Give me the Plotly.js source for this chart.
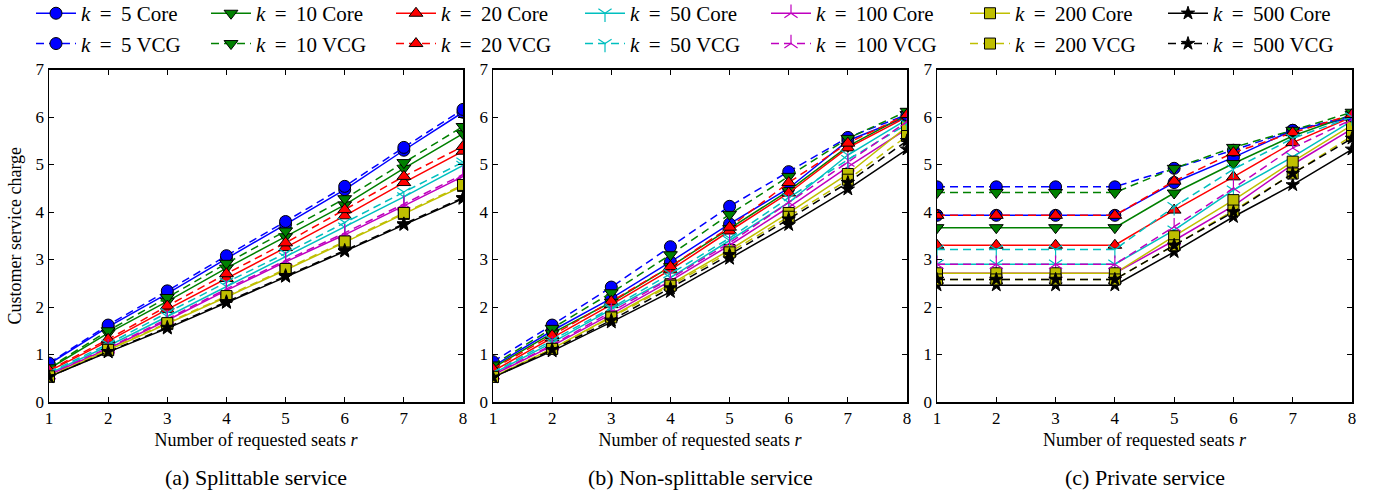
<!DOCTYPE html>
<html><head><meta charset="utf-8">
<script src="https://cdn.plot.ly/plotly-3.0.1.min.js"></script>
<style>html,body{margin:0;padding:0;background:#fff}#chart{width:1379px;height:493px}</style>
</head><body><div id="chart"></div>
<script>
// ---------- data ----------
const seats = [1, 2, 3, 4, 5, 6, 7, 8];
const kValues = [5, 10, 20, 50, 100, 200, 500];
const panelTitles = ['(a) Splittable service', '(b) Non-splittable service', '(c) Private service'];
const xTitle = 'Number of requested seats <i>r</i>';
const yTitle = 'Customer service charge';

// (a) Splittable service, one row per k
const splitCore = [
  [0.80, 1.58, 2.28, 3.02, 3.74, 4.47, 5.30, 6.10],
  [0.70, 1.45, 2.12, 2.82, 3.48, 4.15, 4.92, 5.65],
  [0.65, 1.28, 1.95, 2.60, 3.25, 3.92, 4.62, 5.28],
  [0.60, 1.18, 1.80, 2.43, 3.05, 3.68, 4.32, 4.98],
  [0.57, 1.12, 1.72, 2.35, 2.95, 3.52, 4.13, 4.75],
  [0.53, 1.09, 1.64, 2.21, 2.78, 3.36, 3.96, 4.55],
  [0.53, 1.05, 1.55, 2.09, 2.64, 3.17, 3.73, 4.28]
];
const splitVCG = [
  [0.82, 1.62, 2.34, 3.08, 3.80, 4.54, 5.36, 6.16],
  [0.72, 1.50, 2.20, 2.92, 3.60, 4.28, 5.04, 5.80],
  [0.67, 1.32, 2.02, 2.70, 3.35, 4.05, 4.75, 5.38],
  [0.62, 1.22, 1.88, 2.52, 3.13, 3.78, 4.42, 5.05],
  [0.58, 1.14, 1.75, 2.38, 2.98, 3.56, 4.17, 4.79],
  [0.54, 1.10, 1.66, 2.23, 2.80, 3.38, 3.98, 4.57],
  [0.53, 1.06, 1.57, 2.11, 2.66, 3.19, 3.75, 4.30]
];
// (b) Non-splittable service
const nonSplitCore = [
  [0.75, 1.50, 2.18, 2.95, 3.75, 4.50, 5.50, 6.00],
  [0.72, 1.45, 2.10, 2.85, 3.65, 4.45, 5.38, 6.05],
  [0.65, 1.35, 2.05, 2.78, 3.60, 4.40, 5.35, 6.00],
  [0.60, 1.25, 1.95, 2.62, 3.40, 4.20, 5.20, 5.95],
  [0.57, 1.18, 1.85, 2.55, 3.30, 4.10, 4.95, 5.75],
  [0.53, 1.12, 1.80, 2.48, 3.20, 3.98, 4.80, 5.80],
  [0.52, 1.07, 1.68, 2.32, 3.02, 3.73, 4.48, 5.32]
];
const nonSplitVCG = [
  [0.85, 1.62, 2.42, 3.27, 4.12, 4.85, 5.57, 6.05],
  [0.78, 1.55, 2.30, 3.10, 3.95, 4.75, 5.55, 6.12],
  [0.70, 1.40, 2.12, 2.85, 3.68, 4.62, 5.45, 6.05],
  [0.62, 1.30, 1.98, 2.70, 3.45, 4.30, 5.10, 5.85],
  [0.58, 1.20, 1.90, 2.60, 3.35, 4.20, 5.05, 5.90],
  [0.53, 1.12, 1.78, 2.45, 3.15, 3.90, 4.68, 5.60],
  [0.52, 1.10, 1.72, 2.40, 3.10, 3.85, 4.62, 5.50]
];
// (c) Private service
const privateCore = [
  [3.93, 3.93, 3.93, 3.93, 4.62, 5.15, 5.72, 5.98],
  [3.67, 3.67, 3.67, 3.67, 4.40, 5.02, 5.60, 6.05],
  [3.30, 3.30, 3.30, 3.30, 4.04, 4.74, 5.46, 6.00],
  [2.90, 2.90, 2.90, 2.90, 3.62, 4.46, 5.16, 5.92],
  [2.71, 2.71, 2.71, 2.71, 3.40, 4.13, 5.00, 5.75],
  [2.71, 2.71, 2.71, 2.71, 3.49, 4.25, 5.06, 5.83],
  [2.46, 2.46, 2.46, 2.46, 3.16, 3.90, 4.57, 5.32]
];
const privateVCG = [
  [4.53, 4.53, 4.53, 4.53, 4.92, 5.30, 5.72, 6.02],
  [4.41, 4.41, 4.41, 4.41, 4.92, 5.36, 5.72, 6.10],
  [3.93, 3.93, 3.93, 3.93, 4.65, 5.25, 5.67, 6.05],
  [3.21, 3.21, 3.21, 3.21, 4.11, 4.90, 5.55, 6.00],
  [2.90, 2.90, 2.90, 2.90, 3.69, 4.50, 5.35, 5.95],
  [2.58, 2.58, 2.58, 2.58, 3.30, 4.03, 4.81, 5.60],
  [2.58, 2.58, 2.58, 2.58, 3.30, 4.00, 4.81, 5.55]
];

// ---------- styles ----------
const colors = ['#0000ff', '#008000', '#ff0000', '#00bfbf', '#bf00bf', '#bfbf00', '#000000'];
const symbols = ['circle', 'triangle-down', 'triangle-up', 'y-down', 'y-up', 'square', 'star'];
const sizes = [12, 12, 12, 11, 11, 11, 10];
const FONT = 'Liberation Serif';
const W = 1379, H = 493;
// text start (px) of each legend column in the reference
const legendTextX = [83, 258, 443, 632, 818, 1017, 1215];
const LEGEND_TEXT_OFFSET = 52;

const panels = [
  {core: splitCore, vcg: splitVCG},
  {core: nonSplitCore, vcg: nonSplitVCG},
  {core: privateCore, vcg: privateVCG}
];

const legendName = ki => ki === 0 ? 'legend' : 'legend' + (ki + 1);

const traces = [];
panels.forEach((p, pi) => {
  const ax = pi === 0 ? '' : String(pi + 1);
  [['Core', p.core, 'solid'], ['VCG', p.vcg, '8px,5px']].forEach(([mech, data, dash]) => {
    kValues.forEach((k, ki) => {
      const lineSym = symbols[ki].startsWith('y-');
      traces.push({
        type: 'scatter', mode: 'lines+markers',
        x: seats, y: data[ki],
        xaxis: 'x' + ax, yaxis: 'y' + ax,
        name: '<i>k</i>\u2009 = \u2009' + k + ' ' + mech,
        legend: legendName(ki),
        legendgroup: mech + k,
        showlegend: pi === 0,
        line: {color: colors[ki], width: 1.5, dash: dash},
        marker: {
          symbol: symbols[ki], size: sizes[ki],
          color: colors[ki],
          line: {color: lineSym ? colors[ki] : '#000000', width: lineSym ? 1.2 : 1}
        },
        hoverinfo: 'x+y+name'
      });
    });
  });
});

const xDomains = [[49 / W, 463 / W], [493 / W, 907 / W], [937 / W, 1352 / W]];
const yDomain = [(H - 402) / H, (H - 69.5) / H];

function xAxis(i) {
  return {
    domain: xDomains[i], anchor: i === 0 ? 'y' : 'y' + (i + 1),
    range: [1, 8], tickvals: seats, ticks: 'inside', ticklen: 5, tickwidth: 1, tickcolor: '#000',
    showline: true, linewidth: 1.5, linecolor: '#000', mirror: 'ticks',
    showgrid: false, zeroline: false, fixedrange: true,
    tickfont: {family: FONT, size: 17, color: '#000'},
    title: {text: xTitle, font: {family: FONT, size: 18, color: '#000'}, standoff: 6}
  };
}
function yAxis(i) {
  return {
    domain: yDomain, anchor: i === 0 ? 'x' : 'x' + (i + 1),
    range: [0, 7], dtick: 1, ticks: 'inside', ticklen: 5, tickwidth: 1, tickcolor: '#000',
    showline: true, linewidth: 1.5, linecolor: '#000', mirror: 'ticks',
    showgrid: false, zeroline: false, fixedrange: true,
    tickfont: {family: FONT, size: 17, color: '#000'},
    title: i === 0 ? {text: yTitle, font: {family: FONT, size: 18, color: '#000'}, standoff: 9} : {text: ''}
  };
}

const layout = {
  width: W, height: H,
  margin: {l: 0, r: 0, t: 0, b: 0, autoexpand: false},
  paper_bgcolor: '#fff', plot_bgcolor: '#fff',
  font: {family: FONT, color: '#000'},
  showlegend: true,
  xaxis: xAxis(0), yaxis: yAxis(0),
  xaxis2: xAxis(1), yaxis2: yAxis(1),
  xaxis3: xAxis(2), yaxis3: yAxis(2),
  annotations: panelTitles.map((t, i) => ({
    text: t, xref: 'paper', yref: 'paper',
    x: (xDomains[i][0] + xDomains[i][1]) / 2, y: (H - 477) / H,
    xanchor: 'center', yanchor: 'middle', showarrow: false,
    font: {family: FONT, size: 22, color: '#000'}
  }))
};
kValues.forEach((k, ki) => {
  layout[legendName(ki)] = {
    orientation: 'v', x: (legendTextX[ki] - LEGEND_TEXT_OFFSET) / W, xanchor: 'left',
    y: 1.014, yanchor: 'top', itemwidth: 40, tracegroupgap: 0,
    font: {family: FONT, size: 21, color: '#000'},
    bgcolor: 'rgba(0,0,0,0)', borderwidth: 0, traceorder: 'normal'
  };
});

Plotly.newPlot('chart', traces, layout, {staticPlot: true, displayModeBar: false});
</script>
</body></html>
